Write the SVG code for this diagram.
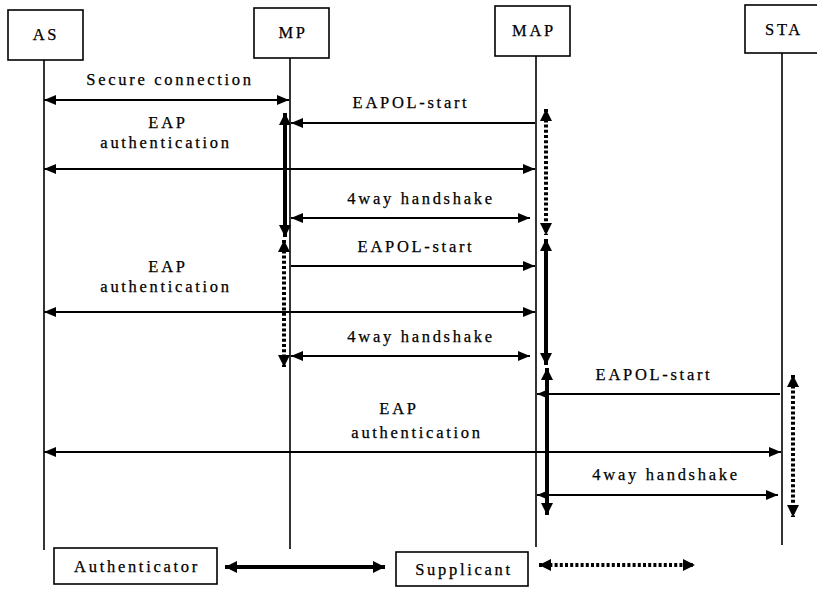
<svg xmlns="http://www.w3.org/2000/svg" width="817" height="589" viewBox="0 0 817 589">
  <style>
    text { font-family: "Liberation Serif", "Times New Roman", serif; font-size: 16.5px; fill: #000; letter-spacing: 2.7px; text-anchor: middle; stroke: #000; stroke-width: 0.25; }
    .box { fill: #fff; stroke: #000; stroke-width: 1.6; }
    .life { stroke: #000; stroke-width: 1.6; fill: none; }
    .msg { stroke: #000; stroke-width: 2.2; fill: none; }
    .auth { stroke: #000; stroke-width: 4; fill: none; }
    .supp { stroke: #000; stroke-width: 4; fill: none; stroke-dasharray: 3 2.2; }
  </style>
  <defs>
    <marker id="ah" markerUnits="userSpaceOnUse" markerWidth="12" markerHeight="10" refX="12" refY="5" orient="auto-start-reverse">
      <path d="M0,0 L12,5 L0,10 z" fill="#000"/>
    </marker>
    <marker id="ahBig" markerUnits="userSpaceOnUse" markerWidth="12" markerHeight="12" refX="12" refY="6" orient="auto-start-reverse">
      <path d="M0,0 L12,6 L0,12 z" fill="#000"/>
    </marker>
  </defs>

  <!-- participants -->
  <g id="as">
    <rect class="box" x="8" y="10" width="75" height="50"/>
    <text x="46" y="40">AS</text>
  </g>
  <g id="mp">
    <rect class="box" x="254" y="8" width="75" height="50"/>
    <text x="293" y="38">MP</text>
  </g>
  <g id="map">
    <rect class="box" x="495" y="6" width="75" height="50"/>
    <text x="534" y="36">MAP</text>
  </g>
  <g id="sta">
    <rect class="box" x="745" y="5" width="80" height="48"/>
    <text x="784" y="35">STA</text>
  </g>

  <!-- legend -->
  <g id="authenticator">
    <rect class="box" x="54" y="548" width="163" height="36"/>
    <text x="137" y="572">Authenticator</text>
  </g>
  <g id="supplicant">
    <rect class="box" x="396" y="552" width="132" height="34"/>
    <text x="464" y="575">Supplicant</text>
  </g>

  <g id="connectors">
    <!-- lifelines -->
    <line class="life" x1="44" y1="60" x2="44" y2="550"/>
    <line class="life" x1="290" y1="58" x2="290" y2="549"/>
    <line class="life" x1="536" y1="56" x2="536" y2="547"/>
    <line class="life" x1="782" y1="53" x2="782" y2="545"/>

    <!-- messages -->
    <line class="msg" x1="44" y1="100" x2="289" y2="100" marker-start="url(#ah)" marker-end="url(#ah)"/>
    <line class="msg" x1="535" y1="123" x2="291" y2="123" marker-end="url(#ah)"/>
    <line class="msg" x1="44" y1="169" x2="535" y2="169" marker-start="url(#ah)" marker-end="url(#ah)"/>
    <line class="msg" x1="291" y1="218" x2="530" y2="218" marker-start="url(#ah)" marker-end="url(#ah)"/>
    <line class="msg" x1="291" y1="266" x2="535" y2="266" marker-end="url(#ah)"/>
    <line class="msg" x1="44" y1="312" x2="535" y2="312" marker-start="url(#ah)" marker-end="url(#ah)"/>
    <line class="msg" x1="291" y1="356" x2="530" y2="356" marker-start="url(#ah)" marker-end="url(#ah)"/>
    <line class="msg" x1="780" y1="394" x2="537" y2="394" marker-end="url(#ah)"/>
    <line class="msg" x1="44" y1="452" x2="781" y2="452" marker-start="url(#ah)" marker-end="url(#ah)"/>
    <line class="msg" x1="537" y1="495" x2="778" y2="495" marker-start="url(#ah)" marker-end="url(#ah)"/>

    <!-- authenticator / supplicant spans -->
    <line class="auth" x1="285" y1="113" x2="285" y2="237" marker-start="url(#ahBig)" marker-end="url(#ahBig)"/>
    <line class="supp" x1="546" y1="109" x2="546" y2="235" marker-start="url(#ahBig)" marker-end="url(#ahBig)"/>
    <line class="supp" x1="284" y1="240" x2="284" y2="367" marker-start="url(#ahBig)" marker-end="url(#ahBig)"/>
    <line class="auth" x1="546" y1="239" x2="546" y2="365" marker-start="url(#ahBig)" marker-end="url(#ahBig)"/>
    <line class="auth" x1="547" y1="368" x2="547" y2="515" marker-start="url(#ahBig)" marker-end="url(#ahBig)"/>
    <line class="supp" x1="793" y1="375" x2="793" y2="517" marker-start="url(#ahBig)" marker-end="url(#ahBig)"/>

    <!-- legend arrows -->
    <line class="auth" x1="225" y1="567" x2="385" y2="567" marker-start="url(#ahBig)" marker-end="url(#ahBig)"/>
    <line class="supp" x1="539" y1="565" x2="695" y2="565" marker-start="url(#ahBig)" marker-end="url(#ahBig)"/>
  </g>

  <!-- message labels -->
  <g id="labels">
    <text x="170" y="85">Secure connection</text>
    <text x="411" y="108">EAPOL-start</text>
    <text x="168" y="128">EAP</text>
    <text x="166" y="148">authentication</text>
    <text x="421" y="204">4way handshake</text>
    <text x="416" y="252">EAPOL-start</text>
    <text x="168" y="272">EAP</text>
    <text x="166" y="292">authentication</text>
    <text x="421" y="342">4way handshake</text>
    <text x="654" y="380">EAPOL-start</text>
    <text x="399" y="414">EAP</text>
    <text x="417" y="438">authentication</text>
    <text x="666" y="480">4way handshake</text>
  </g>
</svg>
